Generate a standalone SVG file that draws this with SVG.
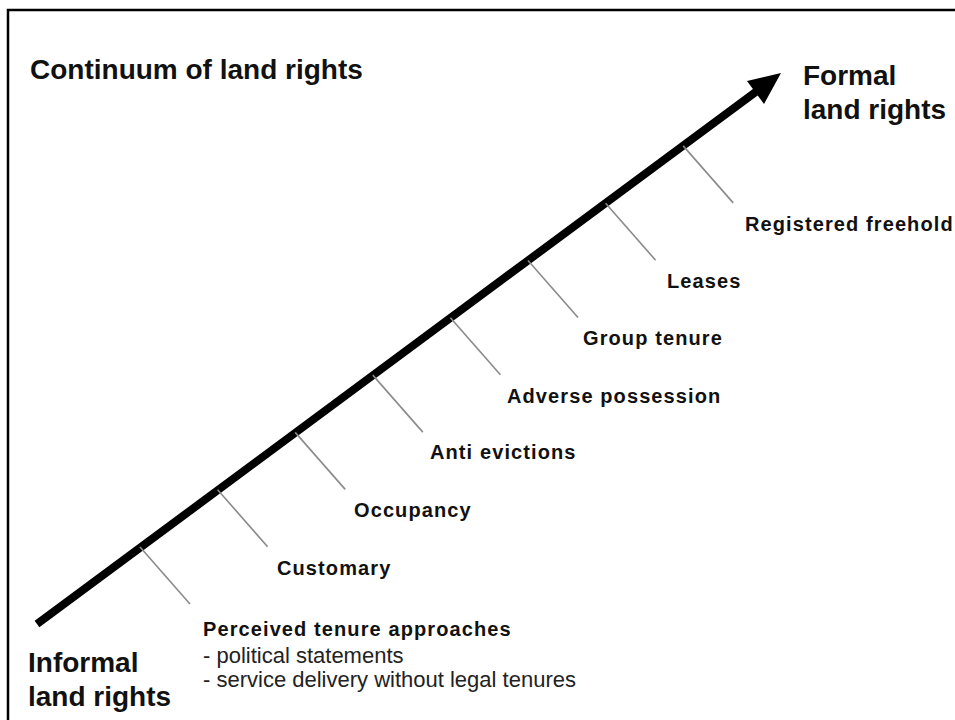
<svg xmlns="http://www.w3.org/2000/svg" width="955" height="720" viewBox="0 0 955 720">
<style>
.title{font-family:"Liberation Sans",Arial,sans-serif;font-weight:bold;font-size:28px;fill:#111}
.lbl{font-family:"Liberation Sans",Arial,sans-serif;font-weight:bold;font-size:20px;letter-spacing:1.1px;fill:#111}
.reg{font-family:"Liberation Sans",Arial,sans-serif;font-size:22px;fill:#222}
.tick{stroke:#8a8a8a;stroke-width:1.6;fill:none}
</style>
<rect width="955" height="720" fill="#fff"/>
<path d="M8 720 V10 H955" fill="none" stroke="#000" stroke-width="2.5"/>
<g id="title"><text class="title" x="30" y="79">Continuum of land rights</text></g>
<g id="formal"><text class="title" x="803" y="85">Formal</text><text class="title" x="803" y="119">land rights</text></g>
<g id="informal"><text class="title" x="28" y="672">Informal</text><text class="title" x="28" y="706">land rights</text></g>
<g id="connectors">
<line x1="37" y1="624" x2="757" y2="91" stroke="#000" stroke-width="8"/>
<polygon points="781,73 747,81 764,104" fill="#000"/>
<line class="tick" x1="140" y1="547" x2="190" y2="604"/>
<line class="tick" x1="217.6" y1="489.7" x2="267.6" y2="546.7"/>
<line class="tick" x1="295.2" y1="432.4" x2="345.2" y2="489.4"/>
<line class="tick" x1="372.8" y1="375.1" x2="422.8" y2="432.1"/>
<line class="tick" x1="450.4" y1="317.8" x2="500.4" y2="374.8"/>
<line class="tick" x1="528" y1="260.5" x2="578" y2="317.5"/>
<line class="tick" x1="605.6" y1="203.2" x2="655.6" y2="260.2"/>
<line class="tick" x1="683.2" y1="145.9" x2="733.2" y2="202.9"/>
</g>
<g id="perceived"><text class="lbl" x="203" y="636">Perceived tenure approaches</text>
<text class="reg" x="203" y="663">- political statements</text>
<text class="reg" x="203" y="687">- service delivery without legal tenures</text></g>
<g id="customary"><text class="lbl" x="277" y="575">Customary</text></g>
<g id="occupancy"><text class="lbl" x="354" y="517">Occupancy</text></g>
<g id="anti-evictions"><text class="lbl" x="430" y="459">Anti evictions</text></g>
<g id="adverse-possession"><text class="lbl" x="507" y="403">Adverse possession</text></g>
<g id="group-tenure"><text class="lbl" x="583" y="345">Group tenure</text></g>
<g id="leases"><text class="lbl" x="667" y="288">Leases</text></g>
<g id="registered-freehold"><text class="lbl" x="745" y="231">Registered freehold</text></g>
</svg>
